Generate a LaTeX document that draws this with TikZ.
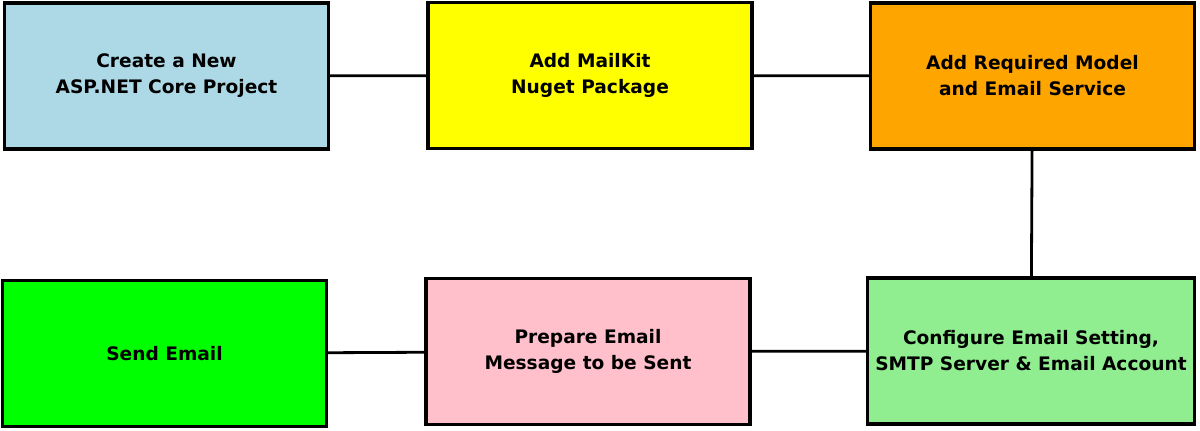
\documentclass[tikz,border=0pt]{standalone}
\usepackage{fontspec}
\setmainfont{DejaVu Sans}
\usetikzlibrary{positioning}
\usepackage{xcolor}
\definecolor{cblue}{HTML}{ADD8E6}
\definecolor{cyellow}{HTML}{FFFF00}
\definecolor{corange}{HTML}{FFA500}
\definecolor{clgreen}{HTML}{90EE90}
\definecolor{cpink}{HTML}{FFC0CB}
\definecolor{cgreen}{HTML}{00FF00}

\begin{document}
\begin{tikzpicture}[x=0.5pt, y=-0.5pt,
  box/.style={draw, line width=1.6pt, minimum width=162pt, minimum height=73pt,
  align=center, font=\bfseries\fontsize{9.3}{13}\selectfont, inner sep=0pt},
  conn/.style={line width=1.4pt}
]
\useasboundingbox (0,0) rectangle (1200,431);
\node[box, fill=cblue]   (proj)  at (166.5, 76)   {Create a New\\ASP.NET Core Project};
\node[box, fill=cyellow] (kit)   at (590, 75.5)   {Add MailKit\\Nuget Package};
\node[box, fill=corange] (model) at (1032.5, 76)  {Add Required Model\\and Email Service};
\node[box, fill=clgreen, minimum width=163.5pt] (conf) at (1031, 351) {Configure Email Setting,\\SMTP Server \& Email Account};
\node[box, fill=cpink]   (msg)   at (588, 351.5)  {Prepare Email\\Message to be Sent};
\node[box, fill=cgreen]  (send)  at (164.5, 353.5) {Send Email};
\draw[conn] (proj)  -- (kit);
\draw[conn] (kit)   -- (model);
\draw[conn] (model) -- (conf);
\draw[conn] (conf)  -- (msg);
\draw[conn] (msg)   -- (send);
\end{tikzpicture}
\end{document}
